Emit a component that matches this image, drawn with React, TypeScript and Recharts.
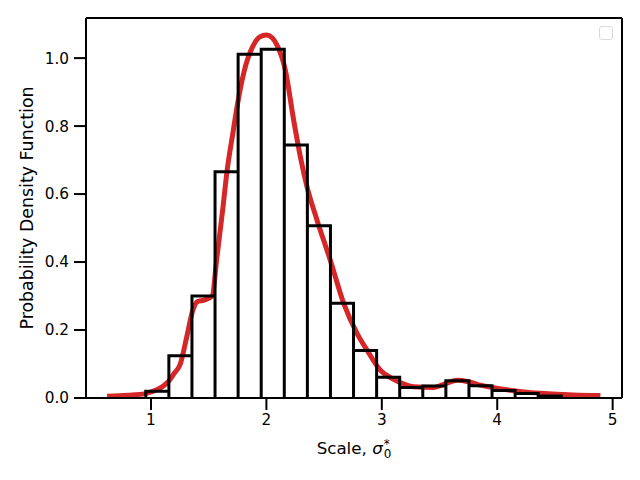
import { ComposedChart, Line, XAxis, YAxis, ReferenceLine } from "recharts";

// histogram bins (density) and the KDE curve
const binEdges = [
  0.955, 1.155, 1.355, 1.555, 1.755, 1.955, 2.155, 2.355, 2.555, 2.755,
  2.955, 3.155, 3.355, 3.555, 3.755, 3.955, 4.155, 4.355, 4.555,
];
const binHeights = [
  0.02, 0.124, 0.3, 0.666, 1.011, 1.026, 0.744, 0.507, 0.279, 0.14,
  0.061, 0.031, 0.035, 0.051, 0.036, 0.022, 0.013, 0.006,
];

const kdeX = [
  0.62, 0.8, 0.95, 1.05, 1.15, 1.2, 1.254, 1.31, 1.36, 1.4, 1.46, 1.53, 1.57,
  1.62, 1.66, 1.71, 1.75, 1.81, 1.88, 1.94, 2.0, 2.05, 2.092, 2.164, 2.236,
  2.3, 2.352, 2.438, 2.553, 2.669, 2.785, 2.872, 2.987, 3.102, 3.2, 3.276,
  3.449, 3.55, 3.652, 3.75, 3.854, 3.97, 4.085, 4.23, 4.374, 4.52, 4.66, 4.894,
];
const kdeY = [
  0.005, 0.008, 0.013, 0.024, 0.048, 0.072, 0.1, 0.18, 0.255, 0.283, 0.288,
  0.3, 0.41, 0.55, 0.67, 0.78, 0.865, 0.965, 1.033, 1.062, 1.068, 1.06, 1.038,
  0.965, 0.818, 0.7, 0.621, 0.524, 0.406, 0.279, 0.19, 0.141, 0.082, 0.055,
  0.04, 0.033, 0.031, 0.042, 0.052, 0.048, 0.038, 0.03, 0.024, 0.018, 0.014,
  0.011, 0.009, 0.007,
];

const xTicks = [1, 2, 3, 4, 5];
const yTicks = [0, 0.2, 0.4, 0.6, 0.8, 1.0];
const xDomain = [0.437, 5.081];
const yDomain = [0, 1.118];

const FONT = "DejaVu Sans";

const kdeData = kdeX.map((x, i) => ({ x, y: kdeY[i] }));

// outline of the step histogram: every bin goes up, across and back down
const histData = binHeights.flatMap((h, i) => [
  { x: binEdges[i], y: 0 },
  { x: binEdges[i], y: h },
  { x: binEdges[i + 1], y: h },
  { x: binEdges[i + 1], y: 0 },
]);

function XLabel({ viewBox }: any) {
  const cx = viewBox.x + viewBox.width / 2;
  const y = viewBox.y + 55.5;
  return (
    <text x={cx} y={y} textAnchor="middle" fontFamily={FONT} fontSize={16.7} fill="#000">
      <tspan>Scale, </tspan>
      <tspan fontStyle="italic">σ</tspan>
      <tspan fontSize={12} dx={1} dy={-6}>*</tspan>
      <tspan fontSize={12} dx={-6} dy={10}>0</tspan>
    </text>
  );
}

function YLabel({ viewBox }: any) {
  const cy = viewBox.y + viewBox.height / 2;
  const x = 27;
  return (
    <text
      x={x}
      y={cy}
      textAnchor="middle"
      dominantBaseline="central"
      transform={`rotate(-90, ${x}, ${cy})`}
      fontFamily={FONT}
      fontSize={17.4}
      fill="#000"
    >
      Probability Density Function
    </text>
  );
}

export default function App() {
  const tickStyle = { fill: "#000", fontSize: 15.3, fontFamily: FONT };
  const lineStyle = { stroke: "#000", strokeWidth: 2 };

  return (
    <div style={{ position: "absolute", left: 0, top: 0, width: 640, height: 480, background: "#fff" }}>
      <ComposedChart
        width={640}
        height={480}
        margin={{ top: 18, right: 18, left: 26, bottom: 32 }}
      >
        <XAxis
          dataKey="x"
          type="number"
          domain={xDomain}
          ticks={xTicks}
          allowDataOverflow
          tickSize={12}
          tickMargin={4}
          axisLine={lineStyle}
          tickLine={lineStyle}
          tick={tickStyle}
          height={50}
          label={<XLabel />}
        />
        <YAxis
          type="number"
          domain={yDomain}
          ticks={yTicks}
          allowDataOverflow
          tickFormatter={(v) => v.toFixed(1)}
          tickSize={12}
          tickMargin={5}
          axisLine={lineStyle}
          tickLine={lineStyle}
          tick={tickStyle}
          width={60}
          label={<YLabel />}
        />
        {/* top and right spines */}
        <ReferenceLine y={yDomain[1]} stroke="#000" strokeWidth={2} />
        <ReferenceLine x={xDomain[1]} stroke="#000" strokeWidth={2} />
        <Line
          data={kdeData}
          dataKey="y"
          type="monotone"
          stroke="#d62728"
          strokeWidth={5}
          dot={false}
          activeDot={false}
          isAnimationActive={false}
        />
        <Line
          data={histData}
          dataKey="y"
          type="linear"
          stroke="#000"
          strokeWidth={3}
          strokeLinejoin="miter"
          dot={false}
          activeDot={false}
          isAnimationActive={false}
        />
      </ComposedChart>
      {/* empty matplotlib legend frame */}
      <div
        style={{
          position: "absolute",
          left: 599,
          top: 26,
          width: 12,
          height: 12,
          border: "1px solid #d9d9d9",
          borderRadius: 3,
          background: "rgba(255,255,255,0.8)",
        }}
      />
    </div>
  );
}
